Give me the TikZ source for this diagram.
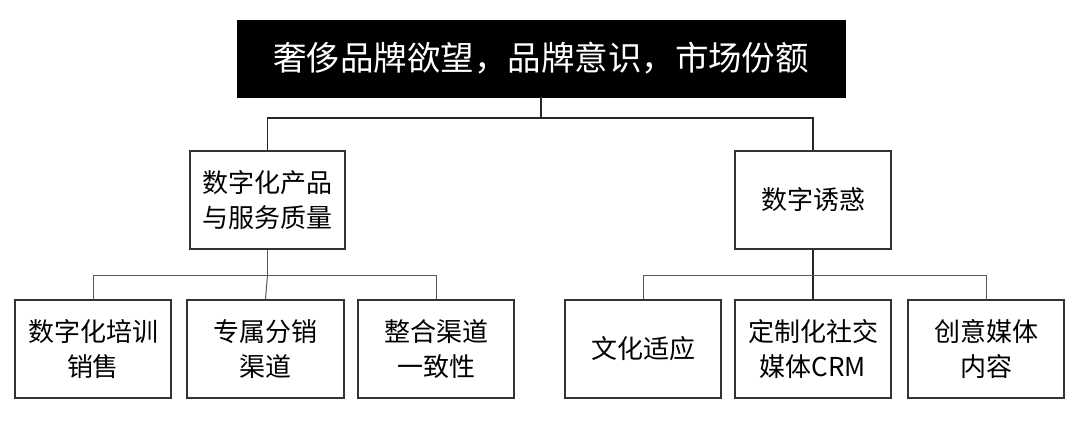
\documentclass[tikz,border=0pt]{standalone}
\usepackage{fontspec}
\setmainfont{Noto Sans CJK SC}
\begin{document}
\begin{tikzpicture}[x=1pt,y=-1pt,
  boxstyle/.style={draw=black!80,line width=1.3pt,fill=white,inner sep=0pt,
    minimum height=98pt,align=center,font=\fontsize{26}{34.5}\selectfont},
  topbox/.style={draw=black,fill=black,text=white,inner sep=0pt,
    minimum width=608pt,minimum height=77pt,font=\fontsize{33.5}{40}\selectfont},
  mainline/.style={draw=black!85,line width=1.6pt},
  subline/.style={draw=black!65,line width=1pt}]
\useasboundingbox (0,0) rectangle (1080,434);
\fill[white] (0,0) rectangle (1080,434);
\node[topbox] (top) at (541,58.5) {奢侈品牌欲望，品牌意识，市场份额};
\node[boxstyle,minimum width=155pt] (m1) at (267.5,200) {数字化产品\\与服务质量};
\node[boxstyle,minimum width=156pt] (m2) at (813,200) {数字诱惑};
\node[boxstyle,minimum width=156pt] (b1) at (93,349) {数字化培训\\销售};
\node[boxstyle,minimum width=157pt] (b2) at (265.5,349) {专属分销\\渠道};
\node[boxstyle,minimum width=156pt] (b3) at (436,349) {整合渠道\\一致性};
\node[boxstyle,minimum width=156pt] (b4) at (643,349) {文化适应};
\node[boxstyle,minimum width=156pt] (b5) at (813,349) {定制化社交\\媒体CRM};
\node[boxstyle,minimum width=156pt] (b6) at (986,349) {创意媒体\\内容};
\coordinate (j0) at (top.south |- 0,118);
\coordinate (j1) at (m1.south |- 0,275);
\coordinate (j2) at (m2.south |- 0,275);
\draw[mainline] (top.south) -- (j0);
\draw[mainline] (j0) -| (m1.north);
\draw[mainline] (j0) -| (m2.north);
\draw[subline] (m1.south) -- (j1);
\draw[subline] (j1) -| (b1.north);
\draw[subline] (j1) -- (b2.north);
\draw[subline] (j1) -| (b3.north);
\draw[mainline] (m2.south) -- (j2);
\draw[mainline] (j2) -- (b5.north);
\draw[subline] (j2) -| (b4.north);
\draw[subline] (j2) -| (b6.north);
\end{tikzpicture}
\end{document}
